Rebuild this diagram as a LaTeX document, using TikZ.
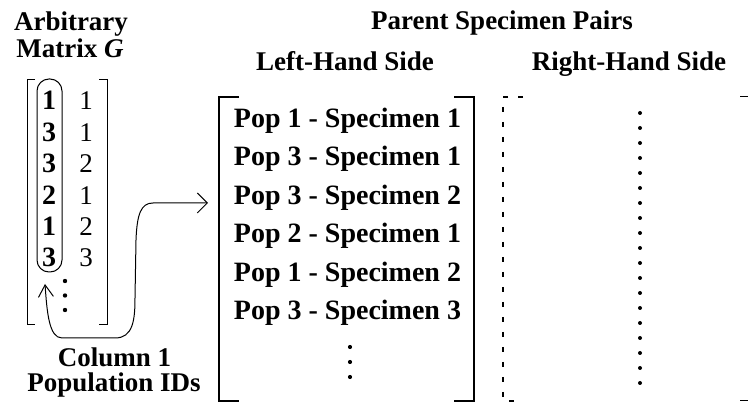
\documentclass[tikz,border=0pt]{standalone}
\usepackage{fontspec}
\setmainfont{Liberation Serif}
\usetikzlibrary{arrows.meta}
\begin{document}
\begin{tikzpicture}[x=1pt,y=-1pt,
  lbl/.style={font=\fontsize{27}{30}\selectfont\bfseries, inner sep=0pt, anchor=base},
  rowtxt/.style={font=\fontsize{28}{30}\selectfont\bfseries, inner sep=0pt, anchor=base},
  numb/.style={font=\fontsize{28}{30}\selectfont\bfseries, inner sep=0pt, anchor=base},
  numr/.style={font=\fontsize{27}{30}\selectfont, inner sep=0pt, anchor=base},
  brk/.style={draw=black, line width=1pt},
  brkthick/.style={draw=black, line width=1.5pt},
  dotfill/.style={fill=black},
  conn/.style={draw=black, line width=1pt, {Straight Barb[length=12pt,width=15pt]}-{Straight Barb[length=10pt,width=20pt]}}
]
\useasboundingbox (0,0) rectangle (753,403);

% titles
\node[lbl] (arb) at (71,31) {Arbitrary};
\node[lbl] (matg) at (70,58) {Matrix \textit{G}};
\node[lbl] (psp) at (502,30) {Parent Specimen Pairs};
\node[lbl] (lhs) at (345,71) {Left-Hand Side};
\node[lbl] (rhs) at (629,71) {Right-Hand Side};
\node[lbl] (col1) at (114.5,367) {Column 1};
\node[lbl] (popid) at (114,392) {Population IDs};

% matrix G brackets
\draw[brk] (35,80) -- (27,80) -- (27,325) -- (35,325);
\draw[brk] (99,80) -- (107,80) -- (107,325) -- (99,325);

% matrix G entries
\foreach \a/\b [count=\i from 0] in {1/1,3/1,3/2,2/1,1/2,3/3} {
  \node[numb] (g\i a) at (49,110+31.4*\i) {\a};
  \node[numr] (g\i b) at (86,110+31.4*\i) {\b};
}
\foreach \yy [count=\i] in {281,295.5,310} {
  \fill[dotfill] (65,\yy) circle (2.2) coordinate (gd\i);
}
% capsule around column 1
\draw[brk, rounded corners=12pt] (37,79) rectangle (62,272);
\coordinate (capbot) at (45,284);

% left-hand side bracket
\draw[brkthick] (239,97) -- (219,97) -- (219,401) -- (239,401);
\draw[brkthick] (454,97) -- (474,97) -- (474,401) -- (454,401);
\foreach \t [count=\i from 0] in {Pop 1 - Specimen 1,Pop 3 - Specimen 1,Pop 3 - Specimen 2,Pop 2 - Specimen 1,Pop 1 - Specimen 2,Pop 3 - Specimen 3} {
  \node[rowtxt] (r\i) at (347.5,127.5+38.5*\i) {\t};
}
\foreach \yy [count=\i] in {347,362,377} {
  \fill[dotfill] (350,\yy) circle (2.1) coordinate (ld\i);
}
\coordinate (lhsin) at (208,203);

% right-hand side dashed bracket
\draw[draw=black, line width=1.3pt, dash pattern=on 5pt off 10pt, dash phase=0pt] (523,97) -- (503,97) -- (503,401) -- (523,401);
\draw[brk] (740,97) -- (748,97);
\draw[brk] (740,401) -- (748,401);
\foreach \i in {0,...,18} {
  \fill[dotfill] (640,113+15*\i) circle (2.0);
}

% connector
\draw[conn] (capbot) .. controls (47,312) and (49,338) .. (62,338) -- (115,338)
  .. controls (133,338) and (135,320) .. (135,298) -- (136,240)
  .. controls (137,214) and (141,203) .. (153,203) -- (lhsin);
\end{tikzpicture}
\end{document}
